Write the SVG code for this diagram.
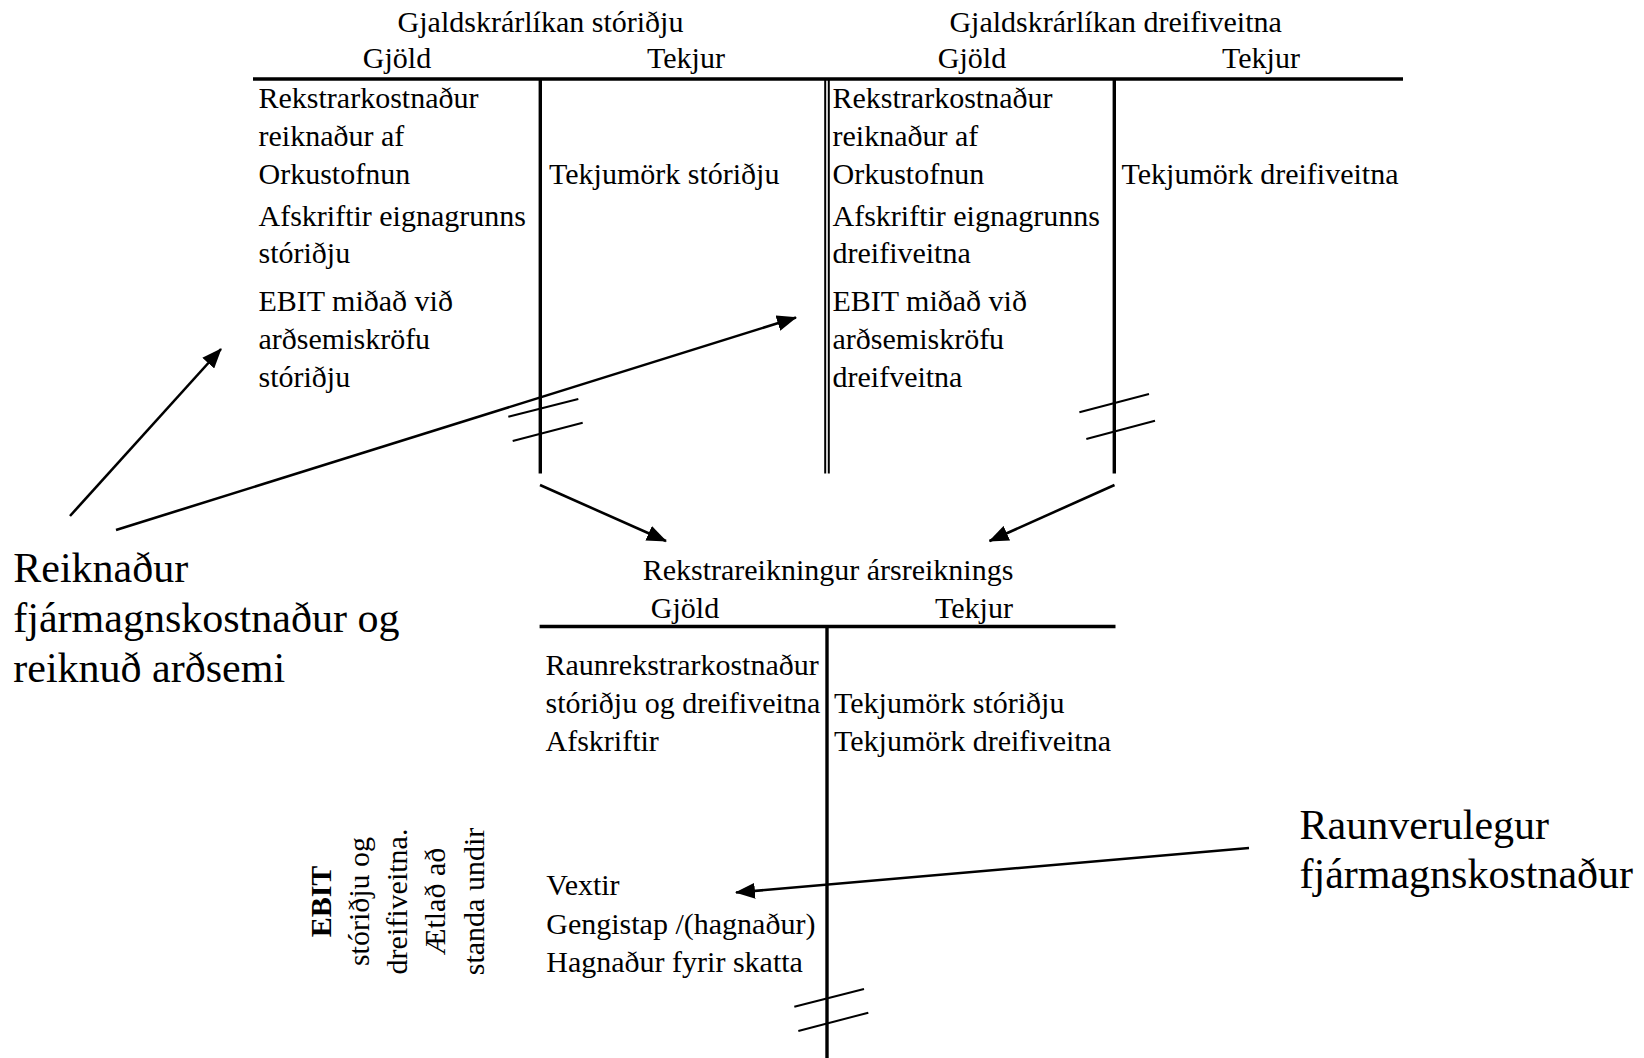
<svg xmlns="http://www.w3.org/2000/svg" width="1644" height="1058" viewBox="0 0 1644 1058">
<style>
  text { font-family: "Liberation Serif", "Times New Roman", serif; fill: #000; }
  .t { font-size: 30px; }
  .big { font-size: 42px; }
  .mid { text-anchor: middle; }
  .b { font-weight: bold; }
  .rule { stroke: #000; stroke-width: 3.4; fill: none; }
  .thin { stroke: #000; stroke-width: 2; fill: none; }
  .arrow { stroke: #000; stroke-width: 2.6; fill: none; marker-end: url(#ah); }
</style>
<defs>
  <marker id="ah" markerUnits="userSpaceOnUse" markerWidth="20" markerHeight="16" viewBox="0 0 20 16" refX="19" refY="8" orient="auto">
    <path d="M0,0 L20,8 L0,16 Z" fill="#000"/>
  </marker>
</defs>
<rect width="1644" height="1058" fill="#fff"/>

<g id="gjaldskra-storidju">
  <text class="t mid" x="540.5" y="31.7">Gjaldskrárlíkan stóriðju</text>
  <text class="t mid" x="397" y="68.3">Gjöld</text>
  <text class="t mid" x="686" y="68.3">Tekjur</text>
  <line class="rule" x1="253" y1="79" x2="1403" y2="79"/>
  <line class="rule" x1="540.3" y1="79" x2="540.3" y2="473.5"/>
  <line class="thin" x1="508.3" y1="416.7" x2="578.3" y2="399"/>
  <line class="thin" x1="512.7" y1="441" x2="582.7" y2="422.7"/>
  <text class="t" x="258.5" y="108">Rekstrarkostnaður</text>
  <text class="t" x="258.5" y="145.5">reiknaður af</text>
  <text class="t" x="258.5" y="184">Orkustofnun</text>
  <text class="t" x="258.5" y="225.5">Afskriftir eignagrunns</text>
  <text class="t" x="258.5" y="262.5">stóriðju</text>
  <text class="t" x="258.5" y="310.5">EBIT miðað við</text>
  <text class="t" x="258.5" y="349">arðsemiskröfu</text>
  <text class="t" x="258.5" y="386.5">stóriðju</text>
  <text class="t" x="549" y="184">Tekjumörk stóriðju</text>
</g>

<g id="gjaldskra-dreifiveitna">
  <text class="t mid" x="1115.6" y="31.7">Gjaldskrárlíkan dreifiveitna</text>
  <text class="t mid" x="972" y="68.3">Gjöld</text>
  <text class="t mid" x="1261" y="68.3">Tekjur</text>
  <line class="thin" x1="825.2" y1="79" x2="825.2" y2="473.5"/>
  <line class="thin" x1="828.8" y1="79" x2="828.8" y2="473.5"/>
  <line class="rule" x1="1114.3" y1="79" x2="1114.3" y2="473.5"/>
  <line class="thin" x1="1079.4" y1="412.3" x2="1149" y2="394"/>
  <line class="thin" x1="1086.3" y1="439" x2="1155" y2="420.7"/>
  <text class="t" x="832.5" y="108">Rekstrarkostnaður</text>
  <text class="t" x="832.5" y="145.5">reiknaður af</text>
  <text class="t" x="832.5" y="184">Orkustofnun</text>
  <text class="t" x="832.5" y="225.5">Afskriftir eignagrunns</text>
  <text class="t" x="832.5" y="262.5">dreifiveitna</text>
  <text class="t" x="832.5" y="310.5">EBIT miðað við</text>
  <text class="t" x="832.5" y="349">arðsemiskröfu</text>
  <text class="t" x="832.5" y="386.5">dreifveitna</text>
  <text class="t" x="1121.5" y="184">Tekjumörk dreifiveitna</text>
</g>

<g id="rekstrarreikningur">
  <text class="t mid" x="828" y="580">Rekstrareikningur ársreiknings</text>
  <text class="t mid" x="685" y="618">Gjöld</text>
  <text class="t mid" x="974" y="618">Tekjur</text>
  <line class="rule" x1="539.6" y1="626.5" x2="1115.5" y2="626.5"/>
  <line class="rule" x1="827" y1="626.5" x2="827" y2="1058"/>
  <line class="thin" x1="794.3" y1="1006.7" x2="864" y2="989"/>
  <line class="thin" x1="798.3" y1="1031" x2="868.3" y2="1012.7"/>
  <text class="t" x="545.5" y="675">Raunrekstrarkostnaður</text>
  <text class="t" x="545.5" y="712.5">stóriðju og dreifiveitna</text>
  <text class="t" x="545.5" y="750.5">Afskriftir</text>
  <text class="t" x="834" y="712.5">Tekjumörk stóriðju</text>
  <text class="t" x="834" y="750.5">Tekjumörk dreifiveitna</text>
  <text class="t" x="546.3" y="895">Vextir</text>
  <text class="t" x="546.3" y="933.5">Gengistap /(hagnaður)</text>
  <text class="t" x="546.3" y="971.5">Hagnaður fyrir skatta</text>
</g>

<g id="ebit-label">
  <text class="t mid b" transform="translate(330.5,901.5) rotate(-90)">EBIT</text>
  <text class="t mid" transform="translate(368.8,901.5) rotate(-90)">stóriðju og</text>
  <text class="t mid" transform="translate(407.1,901.5) rotate(-90)">dreifiveitna.</text>
  <text class="t mid" transform="translate(445.4,901.5) rotate(-90)">Ætlað að</text>
  <text class="t mid" transform="translate(483.7,901.5) rotate(-90)">standa undir</text>
</g>

<g id="reiknadur-label">
  <text class="big" x="13.3" y="581.7">Reiknaður</text>
  <text class="big" x="13.3" y="631.7">fjármagnskostnaður og</text>
  <text class="big" x="13.3" y="681.7">reiknuð arðsemi</text>
</g>

<g id="raunverulegur-label">
  <text class="big" x="1299.5" y="839.3">Raunverulegur</text>
  <text class="big" x="1299.5" y="888.3">fjármagnskostnaður</text>
</g>

<g id="connectors">
  <line class="arrow" x1="70" y1="516" x2="221" y2="349"/>
  <line class="arrow" x1="116" y1="530" x2="796" y2="317.5"/>
  <line class="arrow" x1="540" y1="485" x2="666" y2="541"/>
  <line class="arrow" x1="1114.5" y1="485" x2="989.5" y2="541"/>
  <line class="arrow" x1="1249" y1="848" x2="736" y2="892.5"/>
</g>
</svg>
